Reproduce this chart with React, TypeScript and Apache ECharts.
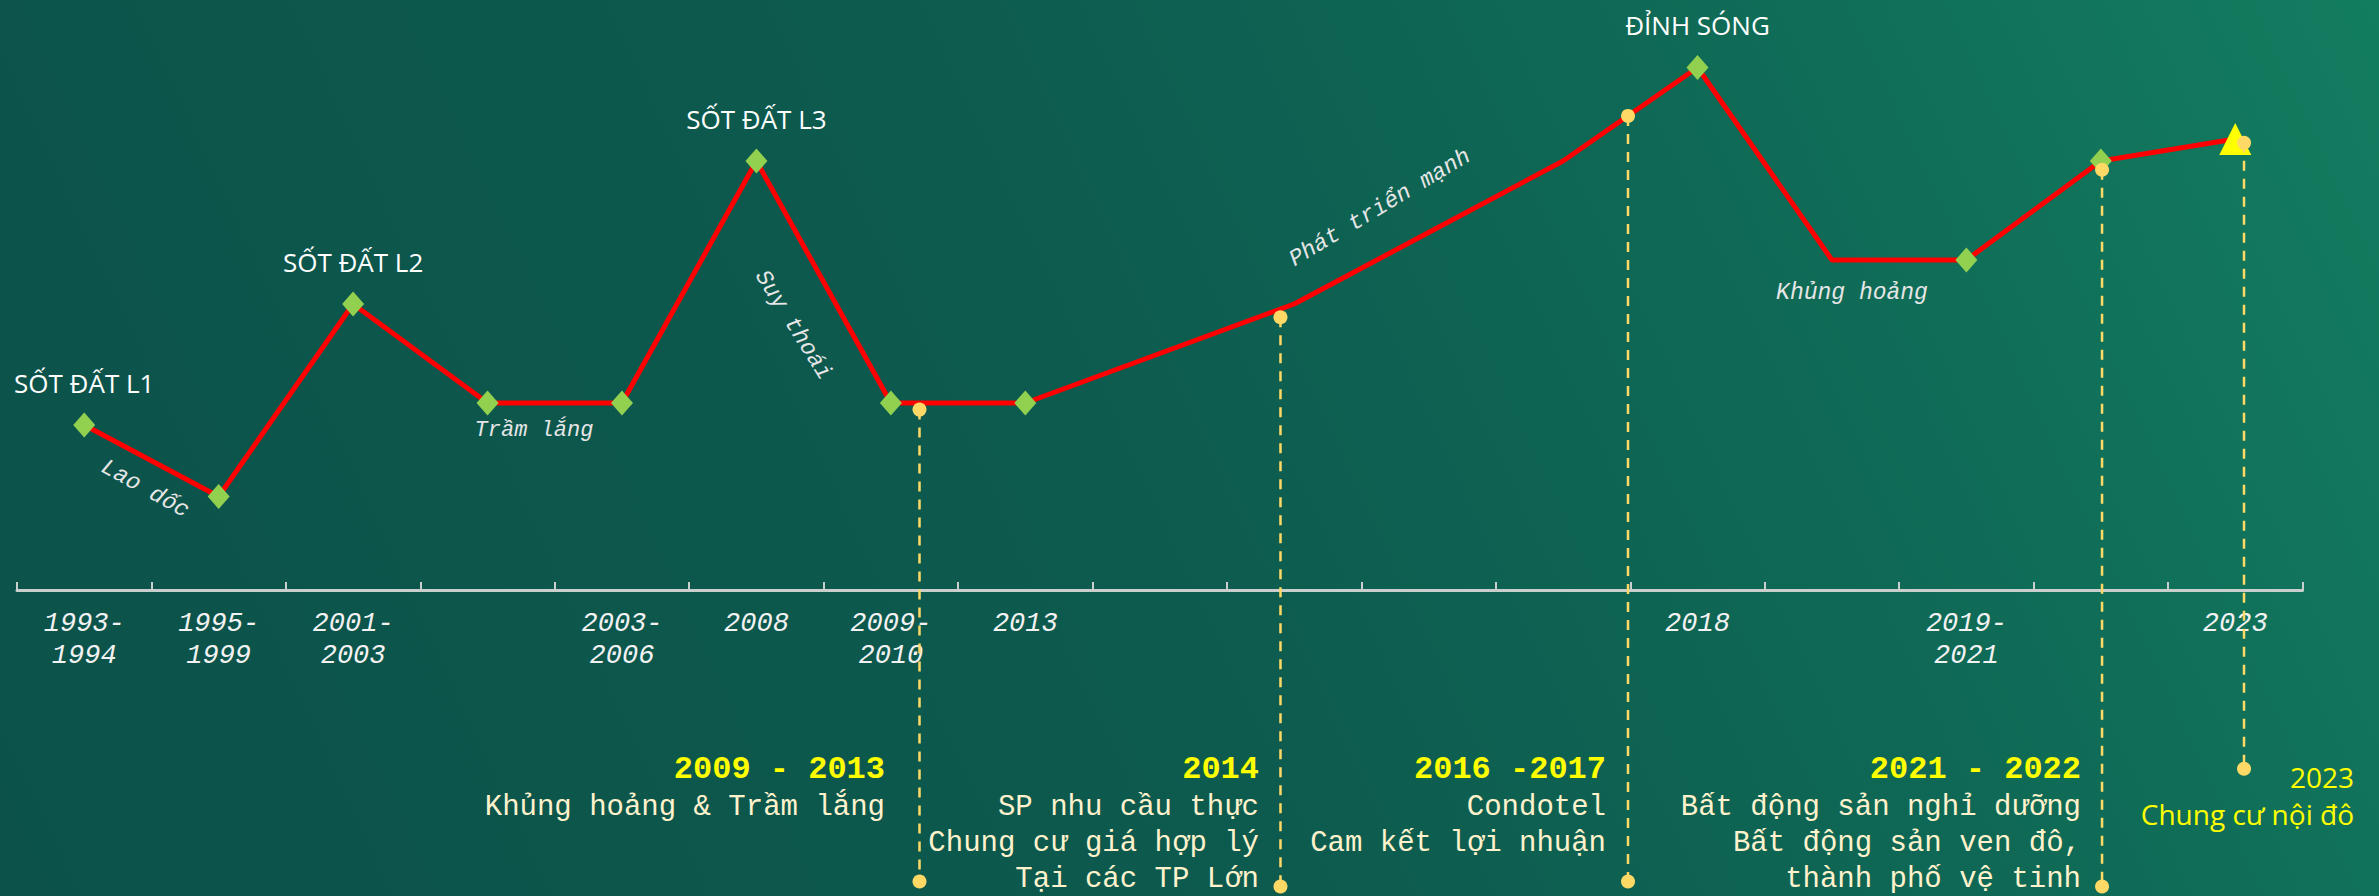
import React, { useEffect, useRef } from "react";
import * as echarts from "echarts";

// ---- data ----
const categories = [
  "1993-\n1994", "1995-\n1999", "2001-\n2003", "", "2003-\n2006", "2008", "2009-\n2010", "2013",
  "", "", "", "", "2018", "", "2019-\n2021", "", "2023",
];
const marketLevel = [30, 17, 52, 34, 34, 78, 34, 34, 43, 52, 65, 78, 95, 60, 60, 78, 82];
const peakLabels = ["SỐT ĐẤT L1", "", "SỐT ĐẤT L2", "", "", "SỐT ĐẤT L3", "", "", "", "", "", "", "ĐỈNH SÓNG", "", "", "", ""];
const markerKinds = [
  "diamond", "diamond", "diamond", "diamond", "diamond", "diamond", "diamond", "diamond",
  "none", "none", "none", "none", "diamond", "none", "diamond", "diamond", "triangle",
];

const eventX = [6.713, 9.398, 11.983, 15.509, 16.565];
const eventTop = [32.8, 49.6, 86.2, 76.4, 81.3];
const eventBottom = [-53.0, -53.9, -53.0, -53.9, -32.5];
const eventTitles = ["2009 - 2013", "2014", "2016 -2017", "2021 - 2022", "2023"];
const eventLines = [
  ["Khủng hoảng & Trầm lắng"],
  ["SP nhu cầu thực", "Chung cư giá hợp lý", "Tại các TP Lớn"],
  ["Condotel", "Cam kết lợi nhuận"],
  ["Bất động sản nghỉ dưỡng", "Bất động sản ven đô,", "thành phố vệ tinh"],
  ["Chung cư nội đô"],
];

const phaseNotes = ["Lao dốc", "Trầm lắng", "Suy thoái", "Phát triển mạnh", "Khủng hoảng"];

const MONO = "'Liberation Mono', 'Courier New', monospace";
const SANS = "'Open Sans', 'Noto Sans', sans-serif";

export default function App() {
  const ref = useRef<HTMLDivElement>(null);

  useEffect(() => {
    if (!ref.current) return;
    const chart = echarts.init(ref.current, null, { renderer: "svg" });

    const mainData = marketLevel.map((v, i) => {
      const kind = markerKinds[i];
      const item: any = { value: v };
      if (kind === "none") {
        item.symbol = "none";
      } else if (kind === "triangle") {
        item.symbol = "triangle";
        item.symbolSize = [32, 32];
        item.itemStyle = { color: "#FFFF00" };
      }
      if (peakLabels[i]) {
        item.label = {
          show: true,
          formatter: peakLabels[i],
          position: "top",
          distance: 17,
          color: "#FFFFFF",
          fontFamily: SANS,
          fontSize: 26,
        };
      }
      return item;
    });

    const eventSeries = eventX.map((x, i) => ({
      type: "line",
      xAxisIndex: 1,
      yAxisIndex: 0,
      data: [
        [x, eventTop[i]],
        [x, eventBottom[i]],
      ],
      symbol: "circle",
      symbolSize: 14,
      showSymbol: true,
      clip: false,
      lineStyle: { color: "#FFD966", width: 2.5, type: [10, 8] },
      itemStyle: { color: "#FFD966" },
      z: 5,
      silent: true,
    }));

    const noteStyle = (text: string, size: number) => ({
      text,
      fill: "#E6E6E6",
      font: `italic ${size}px ${MONO}`,
      align: "center",
      verticalAlign: "middle",
    });

    const deg = Math.PI / 180;
    const graphics: any[] = [
      { type: "text", x: 145, y: 489, rotation: -29 * deg, style: noteStyle(phaseNotes[0], 23) },
      { type: "text", x: 534, y: 430, style: noteStyle(phaseNotes[1], 22) },
      { type: "text", x: 793, y: 325, rotation: -58 * deg, style: noteStyle(phaseNotes[2], 23) },
      { type: "text", x: 1380, y: 208, rotation: 31 * deg, style: noteStyle(phaseNotes[3], 23) },
      { type: "text", x: 1852, y: 293, style: noteStyle(phaseNotes[4], 23) },
    ];

    const eventRight = [885, 1259, 1606, 2081];
    for (let i = 0; i < 4; i++) {
      graphics.push({
        type: "text",
        x: eventRight[i],
        y: 769,
        style: {
          text: eventTitles[i],
          fill: "#FFFF00",
          font: `bold 32px ${MONO}`,
          align: "right",
          verticalAlign: "middle",
        },
      });
      eventLines[i].forEach((line, j) => {
        graphics.push({
          type: "text",
          x: eventRight[i],
          y: 807 + j * 36,
          style: {
            text: line,
            fill: "#FFF2CC",
            font: `29px ${MONO}`,
            align: "right",
            verticalAlign: "middle",
          },
        });
      });
    }
    graphics.push({
      type: "text",
      x: 2354,
      y: 777,
      style: { text: eventTitles[4], fill: "#FFFF00", font: `28px ${SANS}`, align: "right", verticalAlign: "middle" },
    });
    graphics.push({
      type: "text",
      x: 2354,
      y: 814,
      style: { text: eventLines[4][0], fill: "#FFFF00", font: `28px ${SANS}`, align: "right", verticalAlign: "middle" },
    });

    chart.setOption({
      animation: false,
      backgroundColor: "transparent",
      grid: {
        left: 17,
        right: 76.5,
        top: 40,
        bottom: 306,
        containLabel: false,
        outerBoundsMode: "none",
      },
      xAxis: [
        {
          type: "category",
          data: categories,
          boundaryGap: true,
          axisLine: { show: true, onZero: false, lineStyle: { color: "#C9CFCC", width: 3 } },
          axisTick: { show: true, inside: true, length: 8, lineStyle: { color: "#C9CFCC", width: 2 } },
          axisLabel: {
            show: true,
            interval: 0,
            color: "#F2F2F2",
            fontFamily: MONO,
            fontStyle: "italic",
            fontSize: 27,
            lineHeight: 32,
            margin: 18,
          },
          splitLine: { show: false },
        },
        {
          type: "value",
          min: 0,
          max: 17,
          show: false,
          splitLine: { show: false },
        },
      ],
      yAxis: {
        type: "value",
        min: 0,
        max: 100,
        show: false,
        splitLine: { show: false },
      },
      series: [
        {
          type: "line",
          xAxisIndex: 0,
          data: mainData,
          symbol: "diamond",
          symbolSize: [22, 25],
          showAllSymbol: true,
          itemStyle: { color: "#92D050" },
          lineStyle: { color: "#FF0000", width: 5 },
          z: 3,
          clip: false,
        },
        ...eventSeries,
      ],
      graphic: graphics,
    });

    return () => chart.dispose();
  }, []);

  return (
    <div
      style={{
        position: "fixed",
        left: 0,
        top: 0,
        width: 2379,
        height: 896,
        background: "linear-gradient(65deg, #0C524A 0%, #0D5A4E 45%, #0F6A56 75%, #137D60 100%)",
      }}
    >
      <div ref={ref} style={{ width: 2379, height: 896 }} />
    </div>
  );
}
